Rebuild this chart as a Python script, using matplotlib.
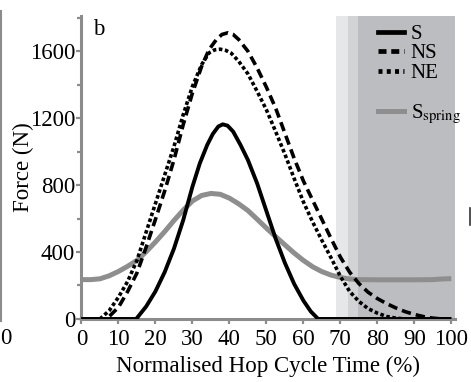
import matplotlib
matplotlib.use("Agg")
import matplotlib.pyplot as plt
from matplotlib.lines import Line2D
from matplotlib.ticker import MultipleLocator

SERIF = "Liberation Serif"
plt.rcParams["font.family"] = [SERIF]
plt.rcParams["mathtext.fontset"] = "stix"

# Normalised hop cycle time (%) and vertical force (N) for each condition
s_time = [0, 14.8, 17.5, 20, 22.5, 25, 27.5, 30, 32, 34, 35.5, 37, 38.2, 39.5,
          41, 43, 45, 47.5, 50, 52.5, 55, 57.5, 60, 62, 64, 100]
s_force = [0, 0, 75, 165, 280, 420, 590, 790, 930, 1040, 1105, 1150, 1163, 1155,
           1120, 1040, 950, 810, 645, 480, 335, 210, 110, 45, 0, 0]

ns_time = [0, 6.3, 7.5, 10, 12.5, 15, 17.5, 20, 22.5, 25, 27.5, 30, 32.5, 34.5,
           36.5, 38, 39.6, 41, 42.5, 45, 47.5, 50, 52.5, 55, 57.5, 60, 62.5, 65,
           67.5, 70, 72.5, 75, 77.5, 80, 82.5, 85, 87.5, 90, 92.5, 95, 97.5, 100]
ns_force = [0, 0, 15, 70, 165, 275, 430, 595, 765, 950, 1160, 1350, 1510, 1610,
            1670, 1700, 1710, 1700, 1670, 1600, 1500, 1385, 1260, 1110, 960, 825,
            710, 595, 480, 370, 280, 212, 160, 122, 92, 66, 44, 27, 14, 5, 0, 0]

ne_time = [0, 5, 7.5, 10, 12.5, 15, 17.5, 20, 22.5, 25, 27.5, 30, 32.5, 34.5,
           36, 37.5, 39, 40.5, 42.5, 45, 47.5, 50, 52.5, 55, 57.5, 60, 62.5, 65,
           67.5, 70, 72.5, 75, 77.5, 80, 82.5, 85, 87.5, 100]
ne_force = [0, 0, 50, 130, 225, 350, 520, 690, 860, 1030, 1220, 1390, 1520, 1590,
            1608, 1612, 1605, 1588, 1540, 1465, 1360, 1250, 1120, 985, 840, 700,
            580, 470, 365, 255, 165, 105, 62, 35, 15, 5, 0, 0]

spring_time = [0, 2.5, 5, 7.5, 10, 12.5, 15, 17.5, 20, 22.5, 25, 27.5, 30, 32.5,
               35, 37.5, 40, 42.5, 45, 47.5, 50, 52.5, 55, 57.5, 60, 62.5, 65,
               67.5, 70, 72.5, 75, 80, 85, 90, 95, 97.5, 100]
spring_force = [235, 235, 240, 258, 284, 315, 350, 402, 460, 522, 588, 650, 705,
                738, 750, 745, 722, 688, 648, 596, 543, 492, 443, 394, 350, 312,
                283, 262, 248, 239, 235, 234, 234, 234, 235, 239, 241]

# Shaded phases of the hop cycle (start %, end %, colour)
phase_starts = [68.8, 72.1, 74.8]
phase_end = 101
phase_colors = ["#e6e7e9", "#d2d3d5", "#bcbdc1"]

spine_gray = "#8c8c8c"
fs = 16.5

fig = plt.figure(figsize=(4.71, 3.82), dpi=100)
ax = fig.add_axes([0.173, 0.165, 0.793, 0.793])

for start, col in zip(phase_starts, phase_colors):
    ax.axvspan(start, phase_end, ymin=0, ymax=1, color=col, lw=0, zorder=0)

line_kw = dict(solid_joinstyle="round", dash_joinstyle="round")
ax.plot(spring_time, spring_force, color="#8e8e8e", lw=3.6,
        solid_capstyle="butt", zorder=2, **line_kw)
ax.plot(ne_time, ne_force, color="black", lw=2.6,
        linestyle=(0, (1.0, 0.7)), zorder=3, **line_kw)
ax.plot(ns_time, ns_force, color="black", lw=2.6,
        linestyle=(0, (2.6, 1.4)), zorder=3, **line_kw)
ax.plot(s_time, s_force, color="black", lw=2.8,
        solid_capstyle="butt", zorder=4, **line_kw)

ax.set_xlim(0, 101)
ax.set_ylim(0, 1810)
ax.xaxis.set_major_locator(MultipleLocator(10))
ax.yaxis.set_major_locator(MultipleLocator(400))
ax.yaxis.set_minor_locator(MultipleLocator(200))

for side in ("top", "right"):
    ax.spines[side].set_visible(False)
for side in ("left", "bottom"):
    ax.spines[side].set_color(spine_gray)
    ax.spines[side].set_linewidth(2.2)

ax.tick_params(which="both", direction="out", color=spine_gray, width=1.6,
               labelsize=fs)
ax.tick_params(which="major", length=3.5)
ax.tick_params(which="minor", length=3)
ax.tick_params(axis="x", pad=4)
ax.tick_params(axis="y", pad=1)
for lab in ax.get_xticklabels() + ax.get_yticklabels():
    lab.set_fontfamily(SERIF)

ax.set_xlabel("Normalised Hop Cycle Time (%)", fontsize=fs, labelpad=4,
              fontfamily=SERIF)
ax.set_ylabel("Force (N)", fontsize=fs, labelpad=-3, fontfamily=SERIF)

ax.text(0.03, 0.99, "b", transform=ax.transAxes, fontsize=fs,
        ha="left", va="top", fontfamily=SERIF)

handles = [
    Line2D([], [], color="black", lw=3.4),
    Line2D([], [], color="black", lw=3.4, linestyle=(0, (1.7, 1.0))),
    Line2D([], [], color="black", lw=3.4, linestyle=(0, (0.85, 0.9))),
    Line2D([], [], color="none"),
    Line2D([], [], color="#8e8e8e", lw=3.6),
]
labels = ["S", "NS", "NE", " ", r"S$_{\mathrm{spring}}$"]
ax.legend(handles, labels, loc="upper left", bbox_to_anchor=(0.795, 0.973),
          frameon=False, prop={"family": SERIF, "size": 15},
          handlelength=1.25, handletextpad=0.3,
          labelspacing=0.0, borderaxespad=0, borderpad=0)

# Edges of the neighbouring panels
fig.add_artist(Line2D([0.002, 0.002], [0.16, 0.97], color=spine_gray, lw=1.5,
                      transform=fig.transFigure))
fig.text(0.0, 0.115, "0", fontsize=fs, ha="left", va="center", fontfamily=SERIF)
fig.add_artist(Line2D([0.997, 0.997], [0.41, 0.455], color="#333333", lw=1.2,
                      transform=fig.transFigure))

fig.savefig("out.png", dpi=100)
